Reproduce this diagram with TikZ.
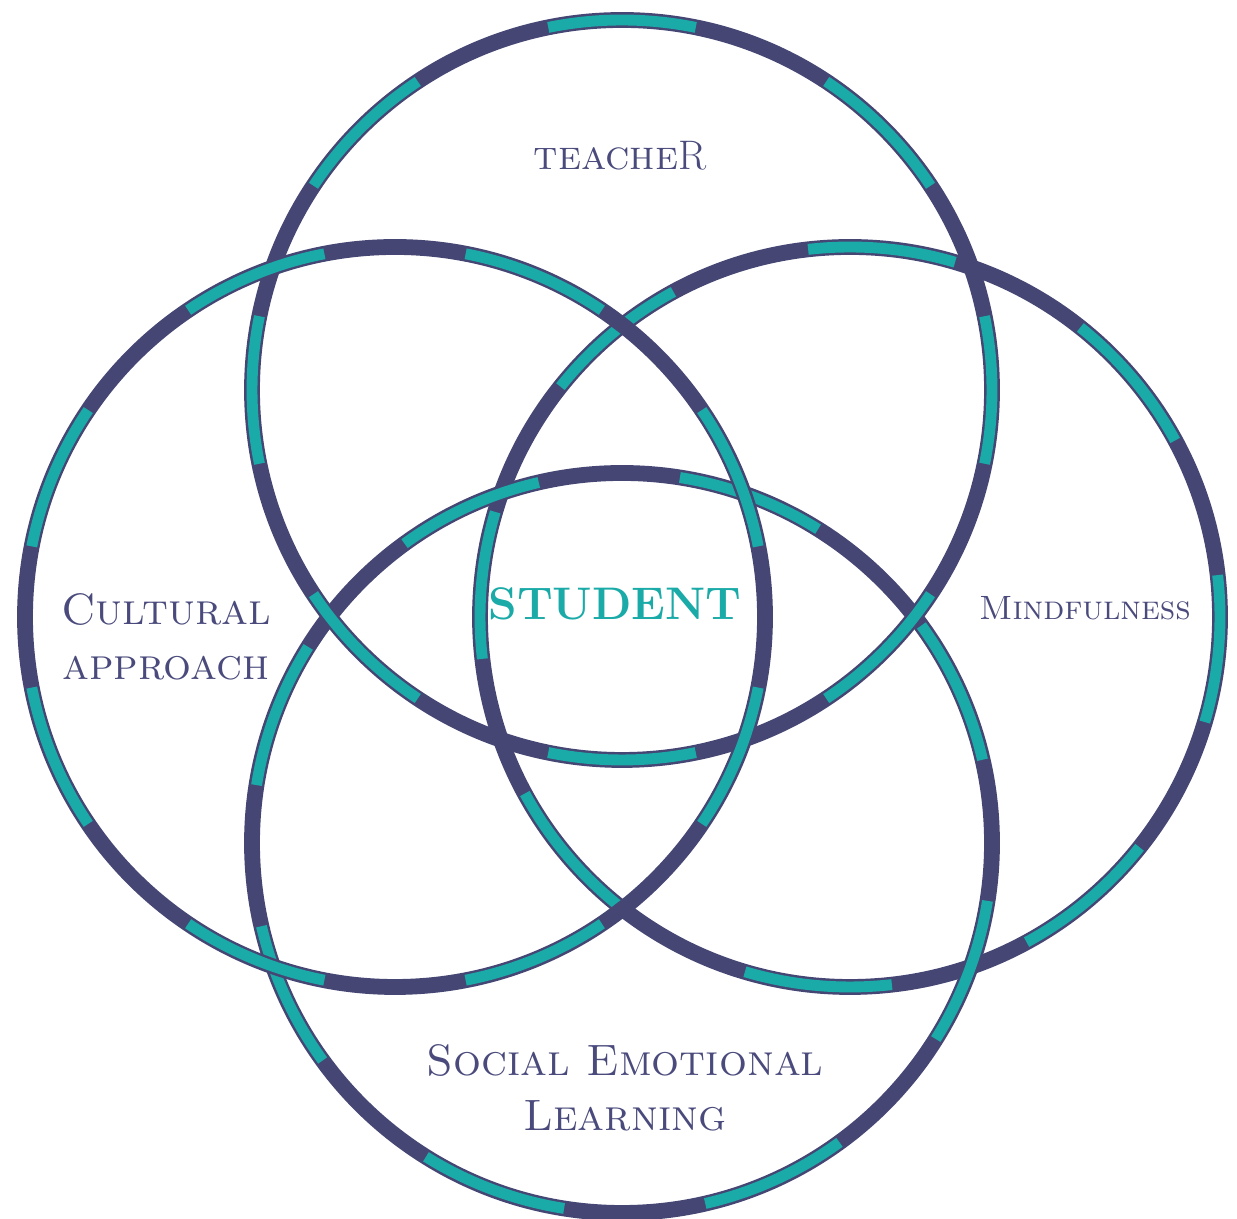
\documentclass[tikz,border=0pt]{standalone}
\usepackage{fontspec}

\definecolor{ringnavy}{HTML}{454673}
\definecolor{ringteal}{HTML}{1AAAA8}
\definecolor{labelnavy}{HTML}{4A4B7C}

\begin{document}
\begin{tikzpicture}[
    x=0.02cm, y=0.02cm,
    ring/.style={draw=ringnavy, line width=9pt},
    band/.style={draw=ringteal, line width=6.2pt},
    label/.style={text=labelnavy, align=center, inner sep=0pt,
      font=\fontsize{25}{31.5}\selectfont},
  ]
  \fill[white] (0,0) rectangle (1237,1219);
  \useasboundingbox (0,0) rectangle (1237,1219);

  % centres of the four rings
  \coordinate (teacher)   at (622,829);
  \coordinate (sel)       at (622,376);
  \coordinate (cultural)  at (395,602);
  \coordinate (mindful)   at (850,602);

  % each ring: navy hoop, then eight teal bands every 45 degrees
  \foreach \c/\off in {mindful/40, sel/24.5, teacher/0, cultural/22.5} {
    \draw[ring] (\c) circle[radius=370];
    \foreach \k in {0,...,7}
      \draw[band] ([shift={(\off+45*\k-11.5:370)}]\c)
        arc[start angle=\off+45*\k-11.5, delta angle=23, radius=370];
  }

  \node[label, anchor=base] (teacherlbl) at (620,1049)
    {\fontsize{23.5}{28}\selectfont\scshape teache\upshape R};
  \node[label, anchor=base] (culturallbl) at (166,539)
    {\scshape Cultural\\\scshape approach};
  \node[label, anchor=base, font=\fontsize{19.2}{23}\selectfont]
    (mindfullbl) at (1085,599) {\scshape Mindfulness};
  \node[label, anchor=base] (sellbl) at (625,88)
    {\scshape Social Emotional\\\scshape Learning};
  \node[anchor=base, inner sep=0pt, text=ringteal,
    font=\fontsize{26}{32}\selectfont\bfseries] (student) at (615,599) {STUDENT};
\end{tikzpicture}
\end{document}
